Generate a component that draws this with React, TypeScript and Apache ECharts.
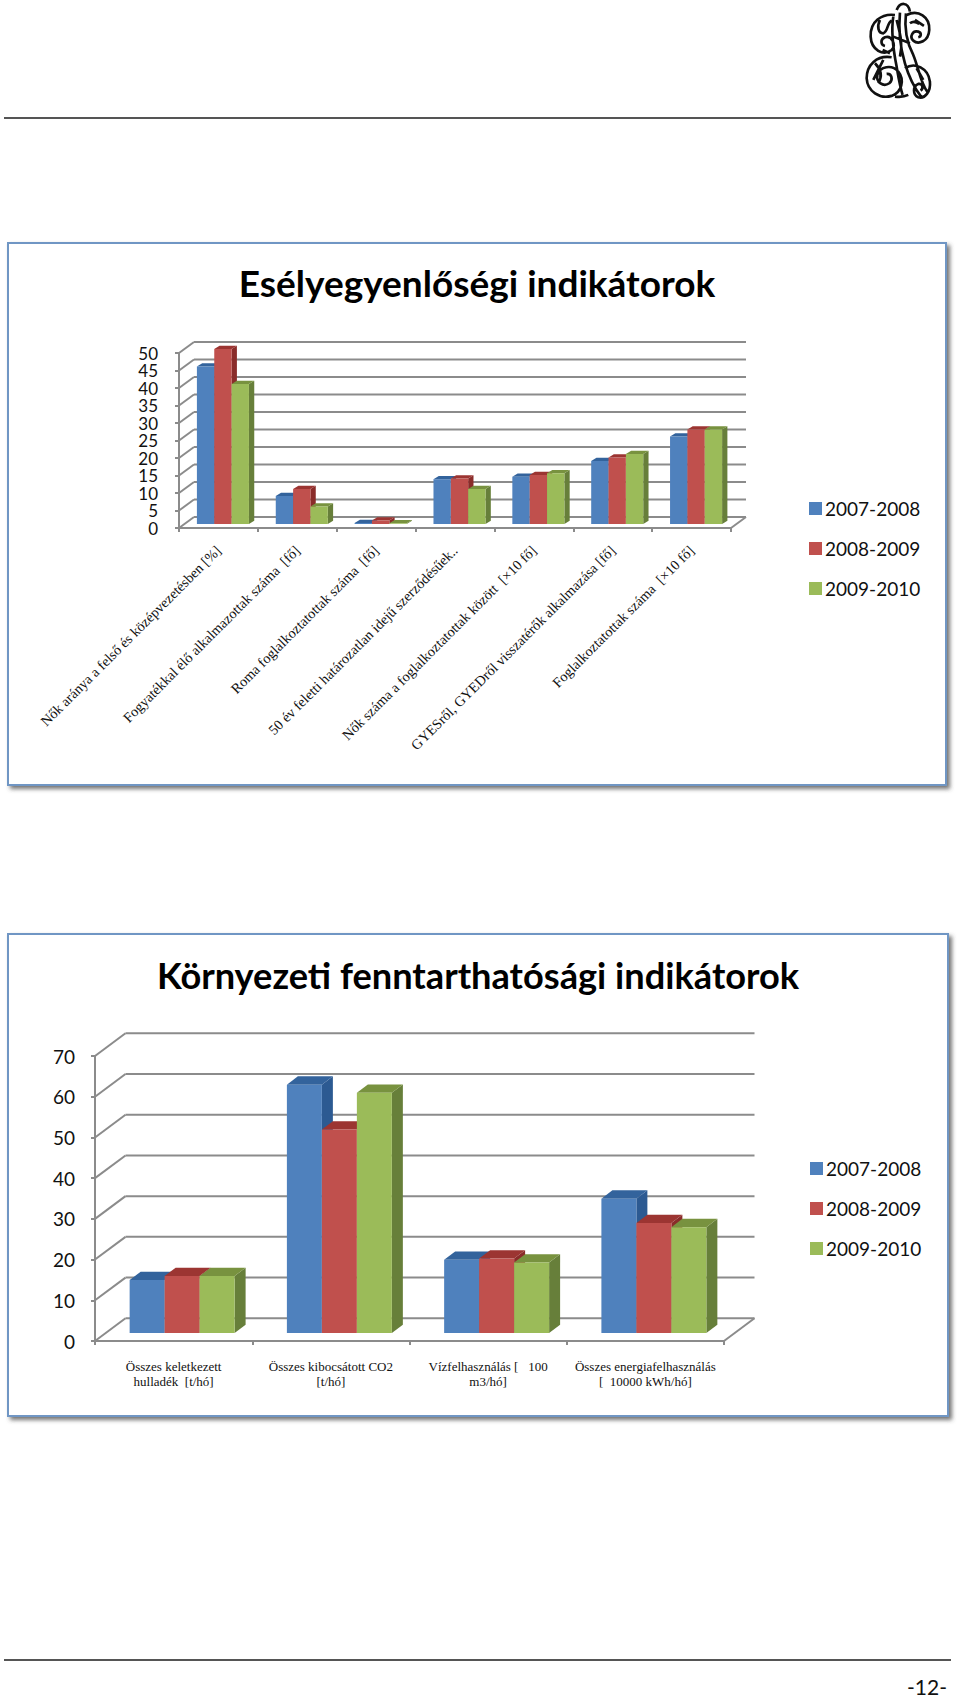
import React, { useEffect, useRef } from "react";
import * as echarts from "echarts";

const seriesNames = ["2007-2008", "2008-2009", "2009-2010"];
const equalCategories = [
  "Nők aránya a felső és középvezetésben [%]",
  "Fogyatékkal élő alkalmazottak száma  [fő]",
  "Roma foglalkoztatottak száma  [fő]",
  "50 év feletti határozatlan idejű szerződésűek..",
  "Nők száma a foglalkoztatottak között  [×10 fő]",
  "GYESről, GYEDről visszatérők alkalmazása [fő]",
  "Foglalkoztatottak száma  [×10 fő]",
];
const equal0708 = [45, 8, 0.3, 12.8, 13.5, 18, 25];
const equal0809 = [50, 10, 1, 13, 14, 19, 27];
const equal0910 = [40, 5, 0.2, 10, 14.5, 20, 27];
const equalTicks = [0, 5, 10, 15, 20, 25, 30, 35, 40, 45, 50];

const envCategories = [
  "Összes keletkezett\nhulladék  [t/hó]",
  "Összes kibocsátott CO2\n[t/hó]",
  "Vízfelhasználás [   100\nm3/hó]",
  "Összes energiafelhasználás\n[  10000 kWh/hó]",
];
const env0708 = [13, 61, 18, 33];
const env0809 = [14, 50, 18.3, 27];
const env0910 = [14, 59, 17.3, 26];
const envTicks = [0, 10, 20, 30, 40, 50, 60, 70];

const frontColors = ["#4f81bd", "#c0504d", "#9bbb59"];
const topColors = ["#33639c", "#9c3532", "#78923f"];
const sideColors = ["#2c5a92", "#8a2c2a", "#677f3a"];
const lineColor = "#8b8b8b";
const uiFont = "Lato";
const serifFont = "'Liberation Serif'";

const logoPath =
  "M140 30 C150 5 175 5 180 35 " +
  "M135 45 C95 40 60 65 62 110 C64 150 100 170 125 150 C140 135 125 105 105 112 C90 118 92 135 105 138 " +
  "M90 60 C80 80 85 100 100 100 C115 95 110 70 125 62 " +
  "M170 45 C205 28 240 50 238 90 C236 125 205 135 190 122 C178 110 188 90 205 95 C215 98 215 110 205 112 " +
  "M195 60 L222 78 M180 70 C190 62 200 66 208 72 " +
  "M130 50 C122 100 130 150 140 200 C146 235 150 260 158 285 " +
  "M150 38 C145 90 150 140 165 190 C175 225 190 260 215 292 " +
  "M168 40 C162 90 172 130 190 165 C205 200 212 250 232 275 " +
  "M140 60 C150 100 160 130 150 170 M130 110 L180 130 M120 160 L98 150 " +
  "M125 172 C80 165 50 195 50 235 C52 275 90 298 125 288 C155 278 165 240 145 215 C125 192 90 200 82 225 C78 248 100 262 118 250 C130 240 126 220 110 222 " +
  "M75 190 C90 205 100 225 85 250 M100 180 L70 240 " +
  "M165 205 C195 185 235 205 240 245 C243 275 225 298 205 292 C188 285 188 258 205 252 C218 250 222 265 212 272 " +
  "M200 205 L220 240 M175 285 C165 290 150 292 135 290";

function backWall(name: string, gridIndex: number, ticks: number[], dx: number, dy: number) {
  return {
    type: "custom",
    name,
    xAxisIndex: gridIndex,
    yAxisIndex: gridIndex,
    z: 1,
    silent: true,
    clip: false,
    data: ticks.map((t) => [0, t]),
    encode: { x: 0, y: 1 },
    renderItem: (params: any, api: any) => {
      const cs = params.coordSys;
      const y = api.coord([0, api.value(1)])[1];
      const style = { stroke: lineColor, lineWidth: 2, fill: "none" };
      const children: any[] = [
        { type: "line", shape: { x1: cs.x, y1: y, x2: cs.x + dx, y2: y - dy }, style },
        { type: "line", shape: { x1: cs.x + dx, y1: y - dy, x2: cs.x + cs.width + dx, y2: y - dy }, style },
      ];
      if (api.value(1) === 0) {
        children.push({
          type: "line",
          shape: { x1: cs.x + cs.width, y1: y, x2: cs.x + cs.width + dx, y2: y - dy },
          style,
        });
      }
      return { type: "group", children };
    },
  };
}

function bars3d(
  gridIndex: number,
  seriesIndex: number,
  values: number[],
  cfg: { ratio: number; depthX: number; depthY: number; planeX: number; planeY: number }
) {
  return {
    type: "custom",
    name: seriesNames[seriesIndex],
    xAxisIndex: gridIndex,
    yAxisIndex: gridIndex,
    z: 2 + seriesIndex,
    silent: true,
    clip: false,
    itemStyle: { color: frontColors[seriesIndex] },
    data: values.map((v, i) => [i, v]),
    encode: { x: 0, y: 1 },
    renderItem: (_params: any, api: any) => {
      const top = api.coord([api.value(0), api.value(1)]);
      const base = api.coord([api.value(0), 0]);
      const band = api.size([1, 0])[0];
      const w = band * cfg.ratio;
      const x = top[0] - 1.5 * w + seriesIndex * w + cfg.planeX;
      const yT = top[1] + cfg.planeY;
      const yB = base[1] + cfg.planeY;
      const dX = cfg.depthX;
      const dY = cfg.depthY;
      return {
        type: "group",
        children: [
          {
            type: "polygon",
            shape: { points: [[x + w, yT], [x + w + dX, yT - dY], [x + w + dX, yB - dY], [x + w, yB]] },
            style: { fill: sideColors[seriesIndex] },
          },
          {
            type: "polygon",
            shape: { points: [[x, yT], [x + dX, yT - dY], [x + w + dX, yT - dY], [x + w, yT]] },
            style: { fill: topColors[seriesIndex] },
          },
          {
            type: "rect",
            shape: { x, y: yT, width: w, height: yB - yT },
            style: { fill: frontColors[seriesIndex] },
          },
        ],
      };
    },
  };
}

function frame(x: number, y: number, width: number, height: number) {
  return {
    type: "rect",
    z: -10,
    shape: { x, y, width, height },
    style: {
      fill: "#ffffff",
      stroke: "#6f96c4",
      lineWidth: 2,
      shadowBlur: 4,
      shadowOffsetX: 3,
      shadowOffsetY: 3,
      shadowColor: "rgba(70,70,70,0.75)",
    },
  };
}

export default function App() {
  const ref = useRef<HTMLDivElement>(null);
  useEffect(() => {
    document.body.style.margin = "0";
    echarts.graphic.registerShape("logo", echarts.graphic.extendPath(logoPath, {}) as any);
    const chart = echarts.init(ref.current!, null, { renderer: "svg" });
    const axisLine = { show: true, lineStyle: { color: lineColor, width: 2 } };
    const axisTick = { show: true, length: 4, lineStyle: { color: lineColor, width: 2 } };
    const cfg1 = { ratio: 0.22, depthX: 5.3, depthY: 3.3, planeX: 4.5, planeY: -4 };
    const cfg2 = { ratio: 0.2225, depthX: 11, depthY: 8.3, planeX: 8.5, planeY: -8 };
    const legendText = { fontFamily: uiFont, fontSize: 19, color: "#111", padding: [0, 0, 0, -2], lineHeight: 23 };
    const yLabel = {
      fontFamily: uiFont,
      color: "#111",
      hideOverlap: false,
      showMinLabel: true,
      showMaxLabel: true,
    };
    chart.setOption({
      animation: false,
      backgroundColor: "#ffffff",
      title: [
        {
          text: "Esélyegyenlőségi indikátorok",
          left: 472,
          top: 259,
          textAlign: "center",
          textStyle: { fontFamily: uiFont, fontWeight: "bold", fontSize: 37, color: "#000" },
        },
        {
          text: "Környezeti fenntarthatósági indikátorok",
          left: 473,
          top: 952,
          textAlign: "center",
          textStyle: { fontFamily: uiFont, fontWeight: "bold", fontSize: 36.2, color: "#000" },
        },
      ],
      legend: [
        {
          data: seriesNames,
          orient: "vertical",
          left: 804,
          top: 492,
          icon: "rect",
          itemWidth: 13,
          itemHeight: 13,
          itemGap: 17,
          selectedMode: false,
          textStyle: legendText,
        },
        {
          data: seriesNames,
          orient: "vertical",
          left: 805,
          top: 1152,
          icon: "rect",
          itemWidth: 13,
          itemHeight: 13,
          itemGap: 17,
          selectedMode: false,
          textStyle: legendText,
        },
      ],
      grid: [
        { left: 179, top: 353, width: 552, height: 175 },
        { left: 95, top: 1056, width: 629, height: 285 },
      ],
      xAxis: [
        {
          type: "category",
          gridIndex: 0,
          data: equalCategories,
          axisLine,
          axisTick,
          axisLabel: {
            interval: 0,
            rotate: 45,
            margin: 20,
            fontFamily: serifFont,
            fontSize: 14.3,
            color: "#111",
          },
        },
        {
          type: "category",
          gridIndex: 1,
          data: envCategories,
          axisLine,
          axisTick,
          axisLabel: {
            interval: 0,
            margin: 18,
            fontFamily: serifFont,
            fontSize: 13,
            lineHeight: 15,
            color: "#111",
          },
        },
      ],
      yAxis: [
        {
          type: "value",
          gridIndex: 0,
          min: 0,
          max: 50,
          interval: 5,
          axisLine,
          axisTick,
          splitLine: { show: false },
          axisLabel: { ...yLabel, fontSize: 17, margin: 21 },
        },
        {
          type: "value",
          gridIndex: 1,
          min: 0,
          max: 70,
          interval: 10,
          axisLine,
          axisTick,
          splitLine: { show: false },
          axisLabel: { ...yLabel, fontSize: 19, margin: 20 },
        },
      ],
      series: [
        backWall("wall-equal", 0, equalTicks, 15, 11),
        bars3d(0, 0, equal0708, cfg1),
        bars3d(0, 1, equal0809, cfg1),
        bars3d(0, 2, equal0910, cfg1),
        backWall("wall-env", 1, envTicks, 30.5, 22.7),
        bars3d(1, 0, env0708, cfg2),
        bars3d(1, 1, env0809, cfg2),
        bars3d(1, 2, env0910, cfg2),
      ],
      graphic: [
        frame(8, 243, 938, 542),
        frame(8, 934, 940, 482),
        { type: "line", shape: { x1: 4, y1: 118, x2: 951, y2: 118 }, style: { stroke: "#555", lineWidth: 2 } },
        { type: "line", shape: { x1: 4, y1: 1660, x2: 951, y2: 1660 }, style: { stroke: "#555", lineWidth: 2 } },
        {
          type: "text",
          x: 907,
          y: 1676,
          style: { text: "-12-", fontFamily: uiFont, fontSize: 21, fill: "#111" },
        },
        {
          type: "logo",
          x: 850,
          y: 0,
          scaleX: 1 / 3,
          scaleY: 1 / 3,
          style: { fill: "none", stroke: "#111", lineWidth: 8 },
        },
      ],
    });
    return () => chart.dispose();
  }, []);
  return <div ref={ref} style={{ width: 960, height: 1698 }} />;
}
